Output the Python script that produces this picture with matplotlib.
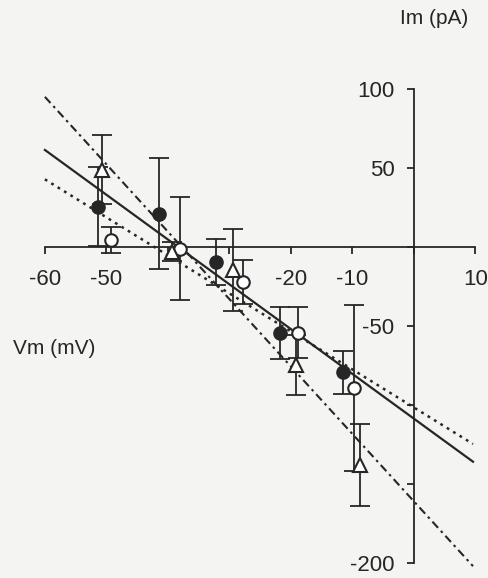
import matplotlib.pyplot as plt
import numpy as np

plt.rcParams['font.family'] = ['Liberation Sans', 'DejaVu Sans']

# filled circles (solid fit)
vm_filled = [-51.3, -41.5, -32.2, -21.7, -11.5]
im_filled = [25.5, 21.0, -9.5, -54.6, -79.3]
err_filled = [25.0, 35.0, 14.6, 16.6, 13.7]

# open circles (dotted fit)
vm_open = [-49.2, -38.0, -27.8, -18.8, -9.8]
im_open = [4.4, -1.0, -22.0, -54.2, -89.0]
err_open = [8.5, 32.5, 14.0, 16.0, 52.5]

# open triangles (dash-dot fit)
vm_tri = [-50.7, -39.4, -29.5, -19.2, -8.8]
im_tri = [49.0, -3.0, -14.6, -74.7, -138.0]
err_tri = [22.0, 6.0, 26.0, 19.0, 26.0]

# fitted lines, end points
fit_vm = [-60.0, 9.6]
fit_filled = [61.4, -135.9]
fit_open = [42.8, -124.7]
fit_tri = [95.0, -202.0]

xticks = [-60, -50, -40, -30, -20, -10, 0, 10]
xlabels = ['-60', '-50', '', '', '-20', '-10', '', '10']
yticks = [-200, -150, -100, -50, 0, 50, 100]
ylabels = ['-200', '', '', '-50', '', '50', '100']

ink = '#262626'
bg = '#f4f4f2'

fig = plt.figure(figsize=(4.89, 5.78), dpi=100, facecolor=bg)
ax = fig.add_axes([0, 0, 1, 1], facecolor=bg)
ax.set_xlim(-67.3, 12.2)
ax.set_ylim(-209.5, 156.3)

ax.plot(fit_vm, fit_filled, '-', color=ink, lw=1.6, zorder=2)
ax.plot(fit_vm, fit_open, color=ink, lw=1.8, ls=(0, (1.1, 1.9)), zorder=2)
ax.plot(fit_vm, fit_tri, color=ink, lw=1.5, ls=(0, (4, 2, 1.2, 2)), zorder=2)

eb = dict(fmt='none', ecolor=ink, elinewidth=1.3, capsize=7, capthick=1.3, zorder=3)
ax.errorbar(vm_filled, im_filled, yerr=err_filled, **eb)
ax.errorbar(vm_open, im_open, yerr=err_open, **eb)
ax.errorbar(vm_tri, im_tri, yerr=err_tri, **eb)

ax.plot(vm_filled, im_filled, 'o', ms=9.5, mfc=ink, mec=ink, ls='none', zorder=4)
ax.plot(vm_open, im_open, 'o', ms=9, mfc='white', mec=ink, mew=1.5, ls='none', zorder=4)
ax.plot(vm_tri, im_tri, '^', ms=9.5, mfc='white', mec=ink, mew=1.5, ls='none', zorder=4)

for s in ['top', 'right']:
    ax.spines[s].set_visible(False)
ax.spines['left'].set_position(('data', 0))
ax.spines['bottom'].set_position(('data', 0))
ax.spines['left'].set_bounds(-200, 100)
ax.spines['bottom'].set_bounds(-60, 10)
for s in ['left', 'bottom']:
    ax.spines[s].set_color(ink)
    ax.spines[s].set_linewidth(1.3)

ax.set_xticks(xticks)
ax.set_xticklabels(xlabels)
ax.set_yticks(yticks)
ax.set_yticklabels(ylabels)
ax.tick_params(axis='x', direction='out', length=5, width=1.3, color=ink,
               labelcolor=ink, labelsize=16, pad=11)
ax.tick_params(axis='y', direction='out', length=5, width=1.3, color=ink,
               labelcolor=ink, labelsize=16, pad=9)

fig.text(434 / 489, 1 - 18 / 578, 'Im (pA)', ha='center', va='center',
         fontsize=15, color=ink)
fig.text(13 / 489, 1 - 348 / 578, 'Vm (mV)', ha='left', va='center',
         fontsize=15, color=ink)

fig.savefig('out.png', dpi=100, facecolor=bg)
